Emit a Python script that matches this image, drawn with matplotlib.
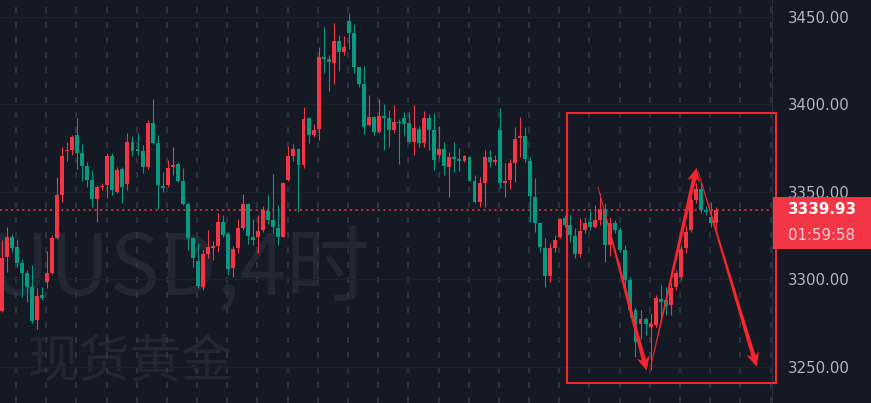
import numpy as np
import matplotlib.pyplot as plt
from matplotlib.patches import Rectangle, Polygon
from matplotlib.transforms import IdentityTransform

# 4H candles, XAUUSD
opens = [3282.2, 3313.0, 3324.4, 3318.7, 3309.6, 3303.9, 3295.5, 3276.8, 3291.0, 3298.7,
         3303.5, 3323.9, 3348.3, 3373.4, 3374.0, 3382.6, 3372.4, 3365.0, 3356.8, 3345.8,
         3352.7, 3354.0, 3370.6, 3350.2, 3363.0, 3354.6, 3378.7, 3374.4, 3373.6, 3364.1,
         3389.2, 3378.2, 3353.4, 3354.0, 3364.1, 3366.0, 3356.4, 3343.1, 3323.5, 3310.7,
         3295.9, 3314.6, 3317.8, 3319.1, 3333.0, 3326.0, 3306.4, 3317.8, 3329.2, 3343.1,
         3324.4, 3324.1, 3328.3, 3339.3, 3334.0, 3329.2, 3324.4, 3356.8, 3370.6, 3374.4,
         3365.4, 3392.1, 3382.6, 3386.0, 3427.0, 3425.8, 3423.9, 3436.4, 3430.2, 3447.9,
         3441.0, 3421.2, 3411.7, 3388.3, 3392.7, 3384.4, 3393.4, 3392.1, 3385.4, 3390.2,
         3392.0, 3389.6, 3378.7, 3385.8, 3377.8, 3392.1, 3385.4, 3371.1, 3374.4, 3364.4,
         3369.8, 3368.8, 3367.7, 3370.2, 3356.4, 3344.4, 3355.3, 3370.2, 3367.3, 3385.4,
         3355.3, 3356.8, 3366.7, 3381.0, 3382.0, 3367.9, 3347.3, 3332.1, 3317.8, 3302.0,
         3317.8, 3324.4, 3335.0, 3331.1, 3324.8, 3314.6, 3328.3, 3333.0, 3329.8, 3334.0,
         3340.1, 3319.7, 3332.1, 3328.3, 3316.8, 3299.7, 3282.6, 3274.6, 3277.2, 3273.0,
         3274.0, 3288.7, 3288.3, 3285.4, 3295.9, 3301.4, 3317.8, 3328.3, 3345.4, 3351.7,
         3339.7, 3335.9, 3332.1]
highs = [3322.6, 3330.2, 3325.8, 3323.0, 3311.5, 3305.4, 3308.3, 3295.0, 3295.5, 3316.4,
         3325.4, 3358.7, 3375.9, 3378.7, 3382.6, 3392.1, 3377.4, 3367.3, 3362.6, 3354.0,
         3355.0, 3372.4, 3372.1, 3364.4, 3364.1, 3383.9, 3382.0, 3383.9, 3376.8, 3391.1,
         3403.1, 3382.6, 3361.6, 3368.3, 3375.5, 3367.3, 3363.5, 3344.4, 3324.4, 3320.7,
         3316.8, 3328.3, 3322.2, 3337.8, 3336.8, 3327.3, 3319.1, 3334.4, 3348.7, 3343.5,
         3334.4, 3336.8, 3342.0, 3348.3, 3360.3, 3342.6, 3355.7, 3376.3, 3377.2, 3375.3,
         3398.4, 3392.7, 3388.8, 3433.0, 3444.4, 3428.3, 3446.4, 3439.7, 3439.1, 3452.1,
         3446.0, 3421.4, 3422.0, 3405.4, 3393.4, 3403.0, 3400.3, 3396.8, 3399.7, 3391.5,
         3395.7, 3395.9, 3399.7, 3387.7, 3396.4, 3394.6, 3395.3, 3387.7, 3378.7, 3373.0,
         3378.7, 3375.0, 3371.1, 3370.6, 3359.7, 3358.4, 3374.0, 3374.0, 3371.1, 3397.8,
         3366.4, 3369.0, 3387.3, 3393.0, 3387.0, 3369.8, 3357.8, 3333.0, 3323.5, 3320.7,
         3325.4, 3335.1, 3336.8, 3336.8, 3329.2, 3335.0, 3335.9, 3339.7, 3342.6, 3349.6,
         3343.9, 3335.9, 3334.0, 3330.0, 3319.7, 3301.6, 3284.4, 3282.6, 3278.7, 3280.8,
         3291.1, 3296.8, 3295.7, 3298.7, 3305.4, 3319.7, 3331.1, 3346.6, 3355.0, 3355.9,
         3342.0, 3344.4, 3341.6]
lows = [3281.7, 3304.4, 3315.9, 3307.3, 3290.2, 3287.3, 3275.3, 3271.5, 3288.3, 3295.0,
        3303.1, 3323.4, 3344.4, 3367.7, 3371.1, 3363.0, 3356.4, 3352.7, 3341.2, 3333.0,
        3351.1, 3346.4, 3348.3, 3349.2, 3343.9, 3351.1, 3370.6, 3371.1, 3361.0, 3363.4,
        3377.4, 3340.1, 3350.2, 3353.0, 3359.7, 3355.9, 3342.6, 3316.8, 3307.3, 3295.0,
        3294.0, 3312.1, 3311.1, 3315.9, 3324.4, 3302.6, 3301.6, 3315.3, 3328.3, 3320.3,
        3319.7, 3315.3, 3327.3, 3331.7, 3326.4, 3319.7, 3324.0, 3356.4, 3367.9, 3338.7,
        3363.5, 3377.8, 3381.6, 3379.7, 3417.8, 3407.9, 3411.7, 3419.3, 3428.3, 3431.5,
        3417.8, 3409.8, 3383.1, 3387.7, 3382.6, 3383.9, 3374.0, 3375.5, 3383.5, 3366.0,
        3382.6, 3377.8, 3371.1, 3375.9, 3375.9, 3374.0, 3362.6, 3369.2, 3359.7, 3347.3,
        3361.6, 3362.2, 3367.3, 3356.3, 3343.5, 3341.2, 3341.6, 3364.4, 3365.4, 3352.1,
        3347.3, 3351.7, 3355.9, 3370.2, 3367.3, 3333.0, 3327.3, 3315.9, 3295.5, 3298.7,
        3315.9, 3323.7, 3330.0, 3321.6, 3312.1, 3313.0, 3326.4, 3328.3, 3329.2, 3331.1,
        3310.0, 3313.4, 3326.6, 3315.7, 3295.9, 3278.7, 3255.9, 3266.0, 3268.3, 3248.3,
        3273.0, 3275.0, 3279.7, 3279.7, 3294.0, 3299.7, 3315.1, 3327.1, 3343.5, 3337.8,
        3336.8, 3330.2, 3329.2]
closes = [3312.1, 3324.4, 3317.8, 3309.6, 3303.9, 3295.5, 3276.4, 3290.6, 3289.2, 3303.5,
          3323.5, 3348.3, 3370.6, 3374.0, 3381.2, 3372.4, 3365.0, 3356.8, 3345.8, 3352.7,
          3353.4, 3370.6, 3351.1, 3362.6, 3353.0, 3378.7, 3373.6, 3373.4, 3364.4, 3389.6,
          3378.2, 3354.0, 3352.1, 3363.5, 3365.4, 3356.4, 3343.1, 3323.5, 3312.1, 3296.3,
          3314.6, 3318.4, 3319.3, 3333.0, 3325.4, 3305.8, 3317.2, 3329.2, 3343.1, 3324.8,
          3322.6, 3327.9, 3339.7, 3334.0, 3329.8, 3324.1, 3355.3, 3370.6, 3374.4, 3365.4,
          3391.5, 3382.6, 3385.4, 3427.3, 3425.8, 3424.4, 3436.4, 3430.2, 3433.0, 3441.0,
          3421.6, 3411.7, 3387.3, 3392.7, 3384.4, 3393.4, 3392.1, 3385.4, 3390.2, 3389.2,
          3388.8, 3378.7, 3386.4, 3377.8, 3392.1, 3385.4, 3368.3, 3374.4, 3364.8, 3369.8,
          3368.8, 3367.9, 3370.6, 3356.4, 3344.4, 3355.0, 3370.2, 3367.3, 3368.3, 3355.3,
          3356.4, 3366.4, 3380.1, 3382.0, 3368.7, 3347.7, 3332.1, 3318.7, 3302.0, 3317.8,
          3322.6, 3334.4, 3331.1, 3325.4, 3314.6, 3327.9, 3332.1, 3330.2, 3334.0, 3340.1,
          3319.7, 3332.1, 3328.3, 3316.8, 3299.7, 3282.6, 3264.3, 3277.2, 3274.6, 3274.6,
          3289.2, 3287.3, 3284.8, 3295.0, 3303.5, 3317.4, 3327.1, 3345.4, 3351.7, 3339.7,
          3338.7, 3332.1, 3339.93]

price_levels = [3250, 3300, 3350, 3400, 3450]
watermark_1 = "XAUUSD,4时"
watermark_2 = "现货黄金"
countdown = "01:59:58"

# drawn annotation (bar index, price)
box = [(112.33, 3241.0), (153.94, 3395.0)]
arrows = [((118.55, 3352.85), (128.23, 3247.9)),
          ((129.03, 3250.2), (138.17, 3363.9)),
          ((138.49, 3361.6), (150.1, 3250.2))]

bg = '#151924'
red = '#f23645'
green = '#089981'
pen = '#f5262e'
cjk = ['Noto Sans CJK SC', 'DejaVu Sans']
plt.rcParams['lines.scale_dashes'] = False

fig = plt.figure(figsize=(8.71, 4.03), dpi=100, facecolor=bg)
ax = fig.add_axes([0, 0, 772 / 871, 1])
ax.set_facecolor(bg)
ax.set_xlim(-0.34, 153.14)
ax.set_ylim(3229.43, 3459.71)

# grid
ax.vlines(np.arange(3, 154, 6) - 0.15, 3229.43, 3459.71, colors='#363a45', lw=1.1,
          linestyles=[(0, (4.3, 6.5))], zorder=1)
for lv in price_levels:
    ax.axhline(lv, color='#1d212c', lw=1, zorder=1)

# watermark
ax.text(370 / 772, (403 - 295) / 403, watermark_1, transform=ax.transAxes, ha='right',
        va='baseline', fontsize=60, color='#232733', family=cjk, zorder=0)
ax.text(28 / 772, (403 - 378) / 403, watermark_2, transform=ax.transAxes, ha='left',
        va='baseline', fontsize=37, color='#232733', family=cjk, zorder=0)

# candles (red = up, green = down)
o = np.array(opens)
c = np.array(closes)
x = np.arange(len(o))
cols = np.where(c >= o, red, green)
ax.vlines(x, lows, highs, colors=cols, lw=0.8, zorder=3)
ax.bar(x, np.maximum(np.abs(c - o), 0.6), bottom=np.minimum(o, c), width=0.78,
       color=cols, lw=0, zorder=4)

# last price line
ax.axhline(closes[-1], color=red, lw=1.1, linestyle=(0, (1.5, 2.5)), zorder=2)

# annotation box
ax.add_patch(Rectangle(box[0], box[1][0] - box[0][0], box[1][1] - box[0][1], fill=False,
                       edgecolor=pen, lw=1.5, clip_on=False, zorder=6))


def tapered_arrow(tail, head, w0=0.8, w1=4.2, head_len=14, head_w=6.5):
    a = ax.transData.transform(tail)
    b = ax.transData.transform(head)
    d = b - a
    u = d / np.hypot(*d)
    n = np.array([-u[1], u[0]])
    base = b - u * head_len
    notch = b - u * head_len * 0.8
    pts = [a + n * w0 / 2, notch + n * w1 / 2, base + n * head_w, b,
           base - n * head_w, notch - n * w1 / 2, a - n * w0 / 2]
    ax.add_patch(Polygon(pts, closed=True, facecolor=pen, lw=0, transform=IdentityTransform(),
                         clip_on=False, zorder=7))


for t, h in arrows:
    tapered_arrow(t, h)

# price scale
for s in ['top', 'left', 'bottom']:
    ax.spines[s].set_visible(False)
ax.spines['right'].set_color('#2a2e39')
ax.set_xticks([])
ax.yaxis.tick_right()
ax.set_yticks(price_levels)
ax.set_yticklabels([f'{v:.2f}' for v in price_levels])
ax.tick_params(axis='y', length=0, pad=11.5, labelcolor='#b2b5be', labelsize=10.8)

# last price label + countdown
ypix = ax.transData.transform((0, closes[-1]))[1]
fig.add_artist(Rectangle((773 / 871, (ypix - 13) / 403), 98 / 871, 26 / 403,
                         transform=fig.transFigure, color=red, lw=0))
fig.add_artist(Rectangle((773 / 871, (ypix - 39) / 403), 98 / 871, 26 / 403,
                         transform=fig.transFigure, color=red, lw=0))
fig.text(788 / 871, ypix / 403, f'{closes[-1]:.2f}', ha='left', va='center', color='white',
         fontsize=10.8, fontweight='bold')
fig.text(788 / 871, (ypix - 26) / 403, countdown, ha='left', va='center', color='#fbd3d6',
         fontsize=10.8)

fig.savefig('out.png', dpi=100, facecolor=bg)
